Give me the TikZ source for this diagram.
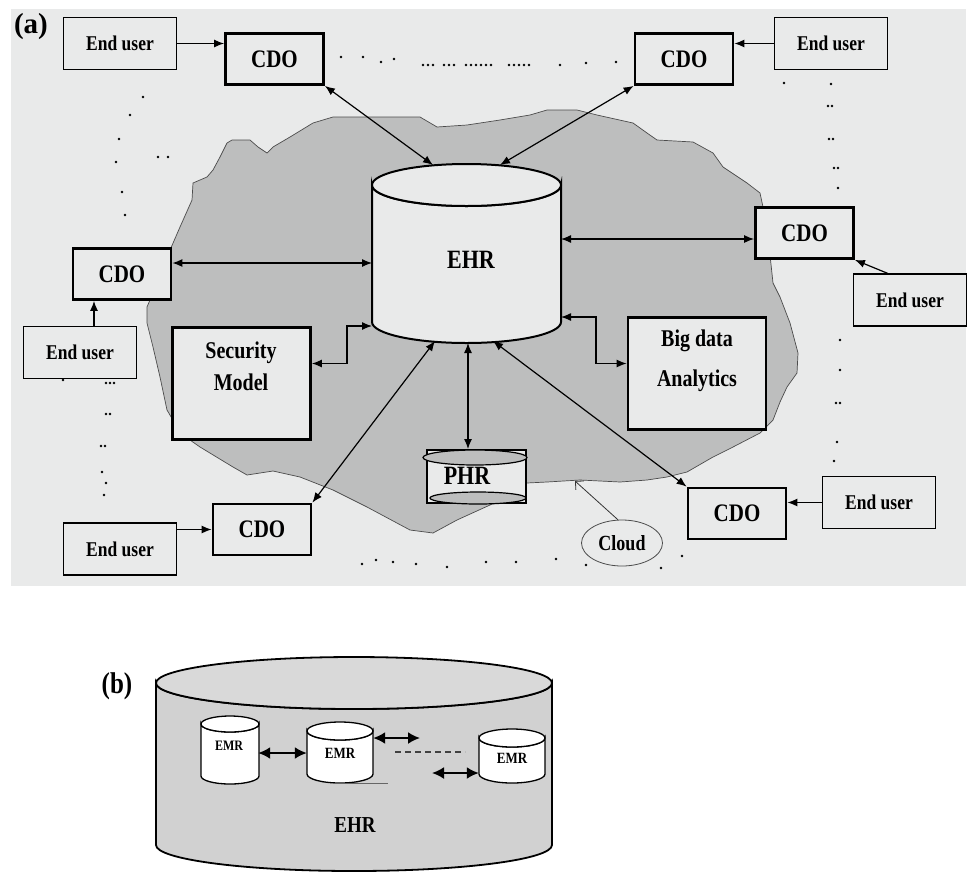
\documentclass[tikz,border=0pt]{standalone}
\usepackage{fontspec}
\setmainfont{Liberation Serif}
\usetikzlibrary{arrows.meta,shapes.geometric}
\definecolor{panel}{HTML}{E9EAEA}
\definecolor{cloudgray}{HTML}{BDBEBE}
\definecolor{drumgray}{HTML}{D1D1D1}
\definecolor{drumtop}{HTML}{D9D9D9}
% options, centre x, top y, bottom y, x radius, y radius, body fill, top fill
\newcommand{\drum}[8][]{%
  \filldraw[#1,fill=#7] (#2-#5,#3) -- (#2-#5,#4) arc[start angle=180,end angle=0,x radius=#5,y radius=#6]
    -- (#2+#5,#3) arc[start angle=0,end angle=180,x radius=#5,y radius=#6] -- cycle;
  \filldraw[#1,fill=#8] (#2,#3) ellipse[x radius=#5,y radius=#6];
}
% the figure's letters are set a little taller than wide
\newcommand{\tall}[1]{\scalebox{1}[1.2]{#1}}
\begin{document}
\begin{tikzpicture}[x=1pt,y=-1pt,>={Latex[length=10pt,width=8pt]},
  euser/.style={draw,line width=1.3pt,fill=panel,minimum width=113pt,minimum height=52pt,font=\bfseries\fontsize{17.5}{20}\selectfont},
  cdo/.style={draw,line width=2.8pt,fill=panel,minimum width=98pt,minimum height=51pt,font=\bfseries\fontsize{21}{24}\selectfont},
  bigbox/.style={draw,line width=2.8pt,fill=panel,minimum width=138pt,minimum height=112pt},
  lbl/.style={font=\bfseries\fontsize{20}{32}\selectfont,align=center},
  link/.style={<->,line width=1.2pt},
  feed/.style={->,line width=1.2pt},
  emr/.style={minimum height=20pt,inner sep=0pt,font=\bfseries\fontsize{13}{15}\selectfont},
  link2/.style={<->,line width=2pt,>={Latex[length=12pt,width=12pt]}}]
\useasboundingbox (0,0) rectangle (971,871);
\fill[panel] (11,9) rectangle (966,586);
% the cloud
\filldraw[fill=cloudgray,draw=black!70,line width=0.7pt] (232,140) -- (250,140) -- (258,147) -- (267,153) -- (273,147)
  -- (290,137) -- (313,123) -- (333,117) -- (420,117) -- (437,127) -- (467,125) -- (500,120) -- (530,115)
  -- (547,110) -- (577,110) -- (597,115) -- (633,123) -- (647,133) -- (657,140) -- (693,142) -- (713,153)
  -- (723,167) -- (747,183) -- (760,193) -- (763,207) -- (767,227) -- (770,255) -- (773,283) -- (780,297)
  -- (790,323) -- (798,353) -- (797,373) -- (787,387) -- (780,402) -- (773,420) -- (760,433) -- (733,447)
  -- (713,457) -- (687,472) -- (667,477) -- (647,480) -- (620,482) -- (580,480) -- (547,482) -- (527,483)
  -- (513,493) -- (490,505) -- (457,520) -- (433,533) -- (410,530) -- (367,507) -- (333,490) -- (300,477)
  -- (273,471) -- (260,473) -- (247,475) -- (233,467) -- (200,447) -- (190,440) -- (177,427) -- (167,410)
  -- (160,377) -- (153,347) -- (147,323) -- (147,307) -- (150,300) -- (157,283) -- (167,257) -- (180,227)
  -- (192,200) -- (193,183) -- (200,180) -- (207,177) -- (213,170) -- (220,157) -- (227,143) -- cycle;
\foreach \p in {(341,57),(363,57),(381,62),(394,59),(423,65),(428,65),(433,65),(444,65),(449,65),(454,65),
  (466,65),(471,65),(476,65),(481,65),(486,65),(491,65),(509,65),(514,65),(519,65),(524,65),(529,65),
  (560,65),(586,63),(616,62),(143,97),(130,115),(119,139),(116,162),(122,192),(125,215),(158,157),(168,157),
  (106,383),(110,383),(114,383),(106,414),(110,414),(101,446),(105,446),(102,472),(106,483),(104,495),(63,380),
  (784,83),(831,84),(828,106),(832,106),(829,139),(833,139),(834,168),(838,168),(838,188),
  (840,340),(840,370),(836,403),(840,403),(837,442),(834,461),
  (362,564),(376,560),(393,562),(416,564),(447,567),(486,562),(516,562),(556,559),(586,565),(661,568),(682,556)}
  \fill \p circle[radius=1.3];
\node[font=\bfseries\fontsize{29}{31}\selectfont] (tagA) at (31,27) {(a)};
% EHR store
\drum[line width=2pt]{466.5}{185}{322}{94.5}{21}{panel}{panel}
\node[font=\bfseries\fontsize{22}{24}\selectfont] (ehrA) at (471,260) {\tall{EHR}};
\coordinate (ehrN1) at (433,165);
\coordinate (ehrN2) at (500,165);
\coordinate (ehrW) at (372,263);
\coordinate (ehrE) at (561,239);
\coordinate (ehrSW) at (372,326);
\coordinate (ehrSE) at (561,317);
\coordinate (ehrS1) at (435,341);
\coordinate (ehrS2) at (468,343);
\coordinate (ehrS3) at (493,341);
% boxes
\node[euser] (euTL) at (120,43.5) {\tall{End user}};
\node[cdo] (cdoTL) at (274.5,59) {\tall{CDO}};
\node[cdo] (cdoTR) at (684,59) {\tall{CDO}};
\node[euser] (euTR) at (831,43.5) {\tall{End user}};
\node[cdo] (cdoL) at (122,274) {\tall{CDO}};
\node[euser] (euL) at (80,352.5) {\tall{End user}};
\node[cdo] (cdoR) at (804.5,233) {\tall{CDO}};
\node[euser] (euR) at (910,300) {\tall{End user}};
\node[bigbox] (sec) at (241.5,383.5) {};
\node[lbl] (secText) at (241,366) {\tall{Security}\\\tall{Model}};
\node[bigbox] (big) at (697,373.5) {};
\node[lbl,font=\bfseries\fontsize{20}{40}\selectfont] (bigText) at (697,361) {\tall{Big data}\\\tall{Analytics}};
\node[cdo] (cdoBL) at (262,529.5) {\tall{CDO}};
\node[euser] (euBL) at (120,549) {\tall{End user}};
\node[cdo] (cdoBR) at (737,513.5) {\tall{CDO}};
\node[euser] (euBR) at (879,502.5) {\tall{End user}};
% PHR
\node[draw,line width=2pt,fill=panel,minimum width=99pt,minimum height=53pt] (phr) at (476.5,476.5) {};
\filldraw[fill=cloudgray,line width=1.2pt] (475,457.5) ellipse[x radius=52,y radius=7.5];
\filldraw[fill=cloudgray,line width=1.2pt] (478,498) ellipse[x radius=48,y radius=6];
\node[font=\bfseries\fontsize{22}{24}\selectfont] (phrText) at (467,476) {\tall{PHR}};
% cloud label
\node[draw=black!70,line width=0.8pt,ellipse,fill=panel,minimum width=81pt,minimum height=46pt,inner sep=0pt,
  font=\bfseries\fontsize{18}{20}\selectfont] (cloud) at (622,543) {\tall{Cloud}};
\coordinate (cloudEdge) at (575,481);
% links
\draw[link] (cdoTL.south east) -- (ehrN1);
\draw[link] (cdoTR.south west) -- (ehrN2);
\draw[link] (ehrW -| cdoL.east) -- (ehrW);
\draw[link] (ehrE) -- (ehrE -| cdoR.west);
\draw[link] ([yshift=20pt]sec.east) -- ++(35,0) |- (ehrSW);
\draw[link] (ehrSE) -- ++(35,0) |- ([yshift=10pt]big.west);
\draw[link] (ehrS2) -- (ehrS2 |- phr.north);
\draw[link] (ehrS1) -- (cdoBL.north east);
\draw[link] (ehrS3) -- (cdoBR.north west);
\draw[feed] (euTL.east) -- (euTL.east -| cdoTL.west);
\draw[feed] (euTR.west) -- (euTR.west -| cdoTR.east);
\draw[feed] ([xshift=14pt]euL.north) -- ([xshift=14pt]euL.north |- cdoL.south);
\draw[feed] (euR.130) -- (cdoR.south east);
\draw[feed] (cdoBL.west -| euBL.east) -- (cdoBL.west);
\draw[feed] (euBR.west) -- (euBR.west -| cdoBR.east);
\draw[-{Straight Barb[length=6pt]},line width=0.8pt,black!80] (cloud.100) -- (cloudEdge);
% (b)
\node[font=\bfseries\fontsize{25}{27}\selectfont] (tagB) at (117,686) {\tall{(b)}};
\drum[line width=1.8pt]{354}{683}{845}{198}{26}{drumgray}{drumtop}
\drum[line width=1.3pt]{230}{724}{776}{29}{8}{white}{white}
\drum[line width=1.3pt]{340}{731}{774}{33}{9}{white}{white}
\drum[line width=1.3pt]{512}{738}{774}{33}{9}{white}{white}
\node[emr,minimum width=58pt,font=\bfseries\fontsize{12}{14}\selectfont] (emr1) at (229,746) {\tall{EMR}};
\node[emr,minimum width=66pt] (emr2) at (340,753) {\tall{EMR}};
\node[emr,minimum width=66pt] (emr3) at (512,758) {\tall{EMR}};
\node[font=\bfseries\fontsize{19}{21}\selectfont] (ehrB) at (355,825) {\tall{EHR}};
\coordinate (gapL) at (420,738);
\coordinate (gapR) at (432,773);
\coordinate (dashL) at (395,752);
\coordinate (dashR) at (465,752);
\coordinate (ulineL) at (334,783);
\coordinate (ulineR) at (388,783);
\draw[link2] (emr2.west -| emr1.east) -- (emr2.west);
\draw[link2] (emr2.east |- gapL) -- (gapL);
\draw[dash pattern=on 6pt off 4pt,line width=1.3pt,black!75] (dashL) -- (dashR);
\draw[link2] (gapR) -- (gapR -| emr3.west);
\draw[line width=1pt,black!60] (ulineL) -- (ulineR);
\end{tikzpicture}
\end{document}
